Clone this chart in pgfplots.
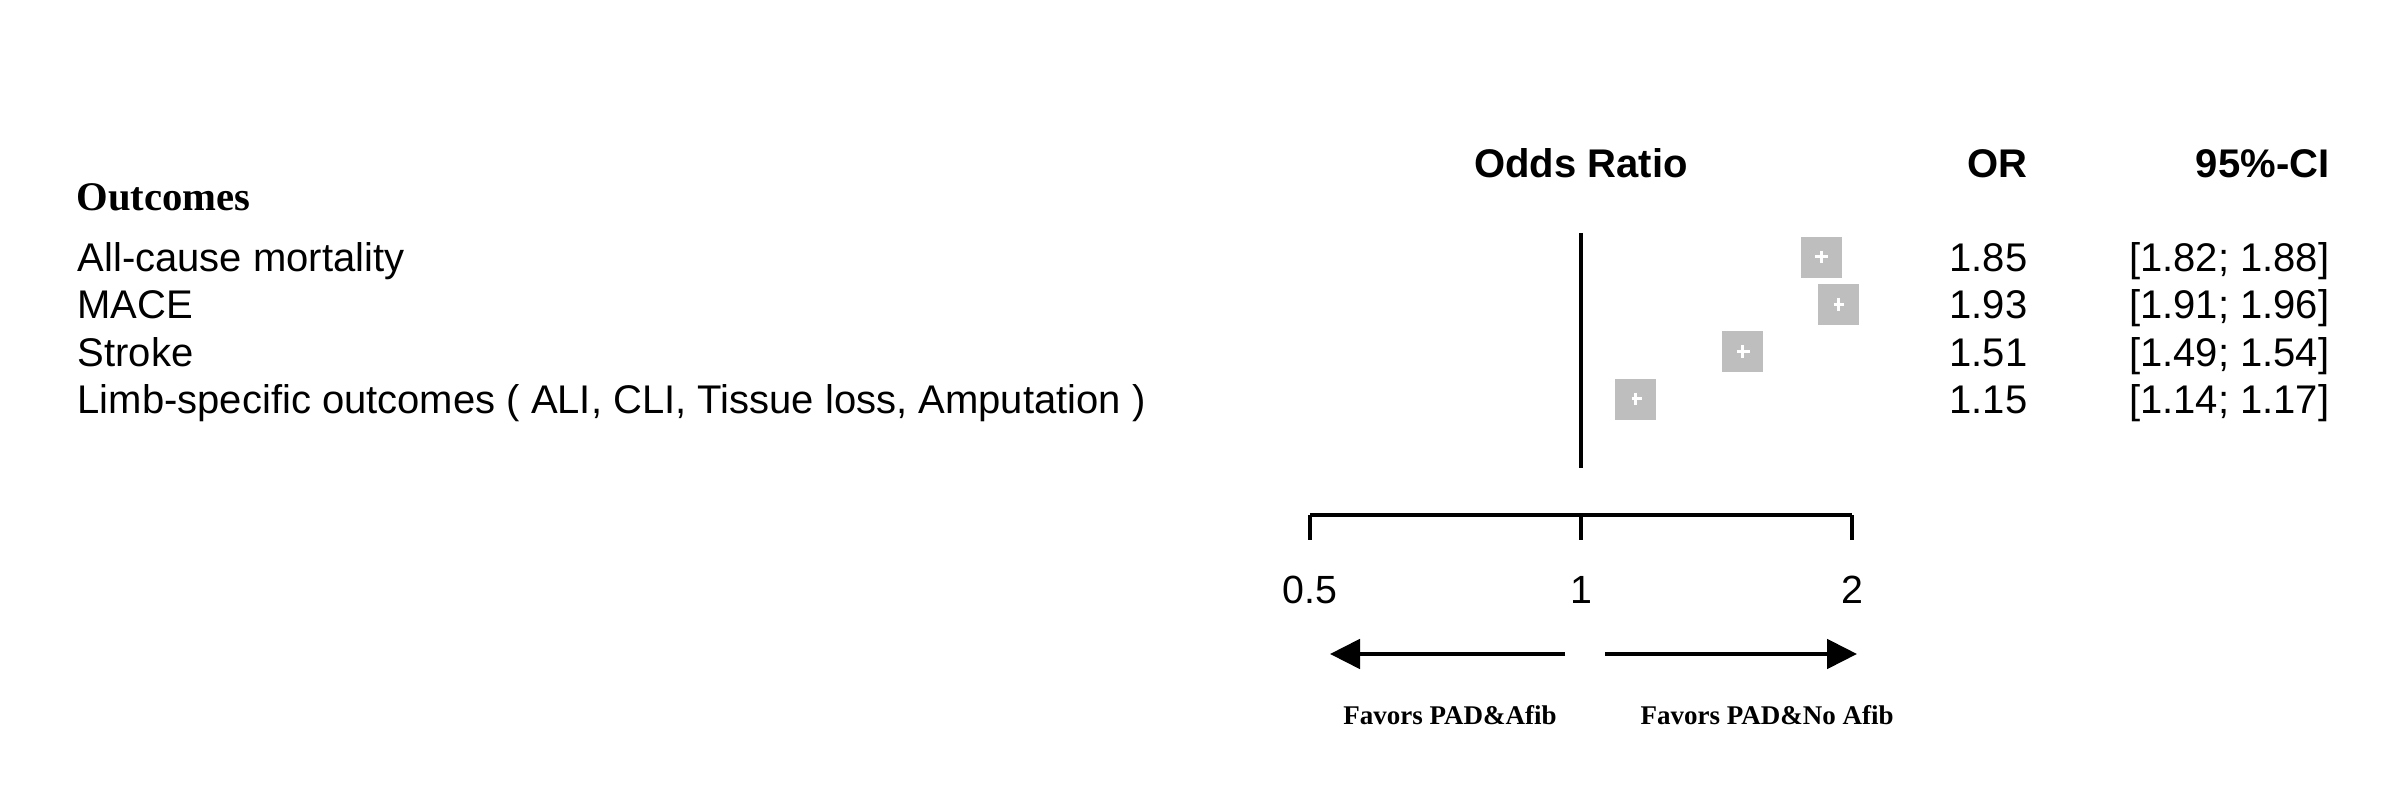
\documentclass[border=0pt]{standalone}
\usepackage{fontspec}
\setmainfont{Liberation Sans}
\newfontfamily\serifbf{Liberation Serif}
\usepackage{pgfplots}
\usepackage{pgfplotstable}
\pgfplotsset{compat=1.18}
\usetikzlibrary{arrows.meta}
\definecolor{sqgray}{RGB}{190,190,190}

\pgfplotstableread{
row or lo hi
1 1.85 1.82 1.88
2 1.93 1.91 1.96
3 1.51 1.49 1.54
4 1.15 1.14 1.17
}\ortable

\begin{document}
\begin{tikzpicture}
\begin{scope}[x=0.3pt,y=-0.3pt]
\path[use as bounding box] (0,0) rectangle (2400,802);
% left column
\node[anchor=base west,inner sep=0pt,font=\serifbf\bfseries\fontsize{12.2}{14}\selectfont] at (76,211) {Outcomes};
\begin{scope}[every node/.style={inner sep=0pt,font=\fontsize{12}{14}\selectfont}]
\node[anchor=base west] at (77,272) {All-cause mortality};
\node[anchor=base west] at (77,319) {MACE};
\node[anchor=base west] at (77,367) {Stroke};
\node[anchor=base west] at (77,414) {Limb-specific outcomes ( ALI, CLI, Tissue loss, Amputation )};
% headers
\node[anchor=base,font=\bfseries\fontsize{12}{14}\selectfont] at (1581,178) {Odds Ratio};
\node[anchor=base east,font=\bfseries\fontsize{12}{14}\selectfont] at (2028,178) {OR};
\node[anchor=base east,font=\bfseries\fontsize{12}{14}\selectfont] at (2330,178) {95\%-CI};
% values
\node[anchor=base east] at (2028,272) {1.85};
\node[anchor=base east] at (2028,319) {1.93};
\node[anchor=base east] at (2028,367) {1.51};
\node[anchor=base east] at (2028,414) {1.15};
\node[anchor=base east] at (2330,272) {[1.82; 1.88]};
\node[anchor=base east] at (2330,319) {[1.91; 1.96]};
\node[anchor=base east] at (2330,367) {[1.49; 1.54]};
\node[anchor=base east] at (2330,414) {[1.14; 1.17]};
\end{scope}
% arrows and captions
\draw[line width=1.2pt,-{Triangle[length=9pt,width=8.8pt]}] (1565,654) -- (1330,654);
\draw[line width=1.2pt,-{Triangle[length=9pt,width=8.8pt]}] (1605,654) -- (1857,654);
\node[anchor=base,inner sep=0pt,font=\serifbf\bfseries\fontsize{8.1}{10}\selectfont] at (1450,725) {Favors PAD\&Afib};
\node[anchor=base west,inner sep=0pt,font=\serifbf\bfseries\fontsize{8.1}{10}\selectfont] at (1640,725) {Favors PAD\&No Afib};
\end{scope}

% plot area
\begin{axis}[
  at={(393pt,-140.4pt)}, anchor=south west,
  scale only axis, width=162.6pt, height=70.5pt,
  xmode=log, log basis x=2, xmin=0.5, xmax=2,
  ymin=0.493, ymax=5.458, y dir=reverse,
  hide axis, clip=false, clip marker paths=true]
\draw[line width=1.1pt] (axis cs:1,0.493) -- (axis cs:1,5.458);
\addplot[only marks, mark=square*, mark size=6pt, mark options={fill=sqgray, draw=sqgray, line width=0.2pt}] table[x=or,y=row] {\ortable};
\addplot[white, line width=0.9pt] coordinates {(1.82,1) (1.88,1)};
\addplot[white, line width=0.9pt] coordinates {(1.91,2) (1.96,2)};
\addplot[white, line width=0.9pt] coordinates {(1.49,3) (1.54,3)};
\addplot[white, line width=0.9pt] coordinates {(1.14,4) (1.17,4)};
\addplot[only marks, mark=|, mark size=1.9pt, mark options={draw=white, line width=0.9pt}] table[x=or,y=row] {\ortable};
\end{axis}

% scale axis
\begin{axis}[
  at={(393pt,-154.5pt)}, anchor=south west,
  scale only axis, width=162.6pt, height=1pt,
  xmode=log, log basis x=2, xmin=0.5, xmax=2,
  ymin=0, ymax=1,
  axis x line*=bottom, axis y line=none,
  axis line style={line width=1.1pt},
  xtick={0.5,1,2}, xticklabels={0.5,1,2},
  tick align=outside, major tick length=7.5pt,
  x tick style={line width=1.1pt, black},
  xticklabel style={font=\fontsize{11.8}{13}\selectfont, anchor=base, inner sep=0pt, yshift=-19.2pt},
  /pgf/number format/assume math mode=true,
  clip=false]
\end{axis}
\end{tikzpicture}
\end{document}
